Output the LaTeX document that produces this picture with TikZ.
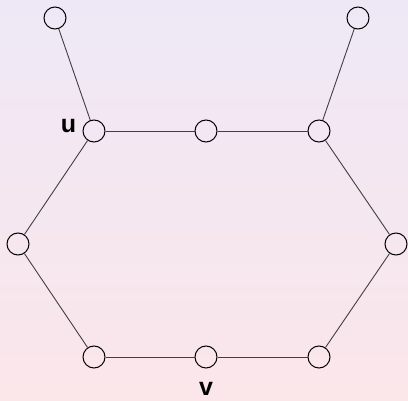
\documentclass[tikz,border=0pt]{standalone}
\usepackage{fontspec}
\setmainfont{Liberation Sans}
\begin{document}
\begin{tikzpicture}[x=1pt,y=-1pt,
  vtx/.style={circle,draw=black,fill=none,line width=1pt,minimum size=22pt,inner sep=0pt},
  edge/.style={draw=black!75,line width=0.9pt},
  lbl/.style={font=\fontsize{25}{25}\selectfont\bfseries,inner sep=0pt}]
\shade[top color={rgb,255:red,238;green,232;blue,246},bottom color={rgb,255:red,251;green,230;blue,234}] (0,0) rectangle (408,401);
\useasboundingbox (0,0) rectangle (408,401);
\node[vtx] (tl) at (55,18) {};
\node[vtx] (tr) at (358,18) {};
\node[vtx] (u) at (94,131) {};
\node[vtx] (m) at (206,131) {};
\node[vtx] (w) at (319,131) {};
\node[vtx] (l) at (18,244) {};
\node[vtx] (r) at (396,244) {};
\node[vtx] (bl) at (94,357) {};
\node[vtx] (v) at (206,357) {};
\node[vtx] (br) at (319,357) {};
\node[lbl] (ul) at (68.5,126.5) {u};
\node[lbl] (vl) at (206,389) {v};
\path[edge] (tl) -- (u);
\path[edge] (tr) -- (w);
\path[edge] (u) -- (m);
\path[edge] (m) -- (w);
\path[edge] (u) -- (l);
\path[edge] (l) -- (bl);
\path[edge] (bl) -- (v);
\path[edge] (v) -- (br);
\path[edge] (br) -- (r);
\path[edge] (r) -- (w);
\end{tikzpicture}
\end{document}
